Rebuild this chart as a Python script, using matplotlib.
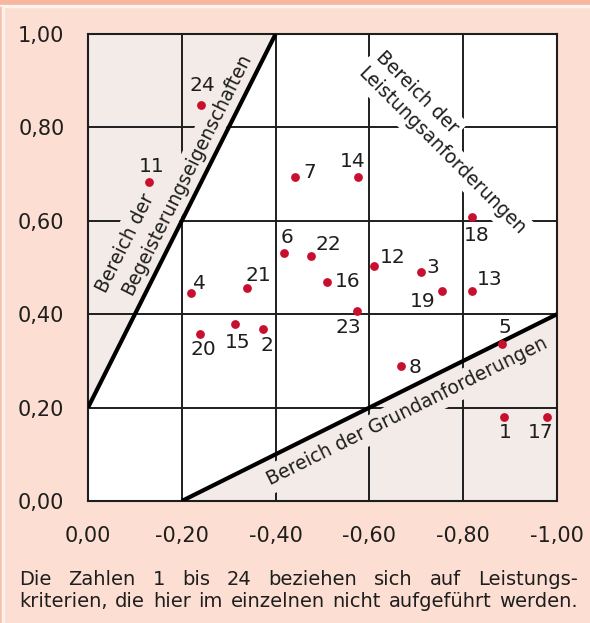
import matplotlib
matplotlib.use("Agg")
import matplotlib.pyplot as plt
from matplotlib.patches import Rectangle

plt.rcParams['font.family'] = ['DejaVu Sans']

# criteria (x axis runs from 0 to -1)
labels = ['24', '11', '7', '14', '18', '6', '22', '12', '3', '16', '21', '4',
          '19', '13', '23', '20', '15', '2', '5', '8', '1', '17']
x_vals = [-0.241, -0.130, -0.441, -0.576, -0.819, -0.418, -0.475, -0.610, -0.710, -0.510,
          -0.339, -0.220, -0.755, -0.819, -0.574, -0.239, -0.313, -0.373, -0.883, -0.667,
          -0.887, -0.979]
y_vals = [0.848, 0.683, 0.694, 0.694, 0.608, 0.531, 0.525, 0.503, 0.491, 0.469,
          0.456, 0.445, 0.450, 0.450, 0.407, 0.358, 0.379, 0.368, 0.336, 0.289,
          0.180, 0.180]

# region boundaries
begeister_x = [0.0, -0.4]
begeister_y = [0.2, 1.0]
grund_x = [-0.2, -1.0]
grund_y = [0.0, 0.4]

xticks = [0.0, -0.2, -0.4, -0.6, -0.8, -1.0]
yticks = [0.0, 0.2, 0.4, 0.6, 0.8, 1.0]

caption = ["Die Zahlen 1 bis 24 beziehen sich auf Leistungs-",
           "kriterien, die hier im einzelnen nicht aufgeführt werden."]

# label offsets in pixels (dx right, dy down)
label_offsets = {'24': (1, -19), '11': (3, -16), '7': (15, -4), '14': (-5, -15),
                 '18': (5, 18), '6': (3, -16), '22': (18, -11), '12': (19, -9),
                 '3': (12, -4), '16': (20, 0), '21': (11, -13), '4': (8, -10),
                 '19': (-19, 11), '13': (18, -11), '23': (-9, 17), '20': (3, 16),
                 '15': (3, 18), '2': (4, 16), '5': (3, -17), '8': (14, 1),
                 '1': (1, 16), '17': (-7, 16)}

W, H = 590, 623
bg = '#fcdfd2'
shade = '#f3ebe7'
ink = '#1e1e1e'
dot = '#c8102e'

fig = plt.figure(figsize=(W / 100, H / 100), dpi=100, facecolor=bg)
fig.patches.append(Rectangle((0, 1 - 5 / H), 1, 5 / H, transform=fig.transFigure,
                             color='#f6b6a0', zorder=0))
fig.patches.append(Rectangle((0, 1 - 7 / H), 1, 2 / H, transform=fig.transFigure,
                             color='#fff3ee', zorder=0))
fig.patches.append(Rectangle((0, 0), 2 / W, 1 - 7 / H, transform=fig.transFigure,
                             color='#f4c2b0', zorder=0))
fig.patches.append(Rectangle((2 / W, 0), 1.5 / W, 1 - 7 / H, transform=fig.transFigure,
                             color='#fff0ea', zorder=0))

ax = fig.add_axes([88 / W, 122 / H, 469 / W, 467 / H])
ax.set_facecolor('white')
ax.set_xlim(0, -1)
ax.set_ylim(0, 1)

# shaded regions
upper = ax.fill(begeister_x + [0.0], begeister_y + [1.0], color=shade, lw=0, zorder=0.2)[0]
lower = ax.fill(grund_x + [-1.0], grund_y + [0.0], color=shade, lw=0, zorder=0.2)[0]

ax.set_xticks(xticks)
ax.set_yticks(yticks)
ax.set_xticklabels([f"{v:.2f}".replace('.', ',') for v in xticks])
ax.set_yticklabels([f"{v:.2f}".replace('.', ',') for v in yticks])
ax.tick_params(length=0, labelsize=15, colors=ink)
ax.tick_params(axis='x', pad=18)
ax.tick_params(axis='y', pad=17)
ax.grid(True, color=ink, lw=1.4)
ax.set_axisbelow(True)
for s in ax.spines.values():
    s.set_color(ink)
    s.set_linewidth(1.5)

# boundary lines
ax.plot(begeister_x, begeister_y, color='black', lw=3, zorder=3, solid_capstyle='butt')
ax.plot(grund_x, grund_y, color='black', lw=3, zorder=3, solid_capstyle='butt')

# region labels
def region_text(x, y, s, rot, face, clip=None):
    t = ax.text(x, y, s, rotation=rot, rotation_mode='anchor', ha='center', va='center',
                fontsize=13.5, color=ink, zorder=2,
                bbox=dict(boxstyle='square,pad=0.25', fc=face, ec='none'))
    if clip is not None:
        t.set_clip_path(clip)
    return t

region_text(-0.079, 0.552, "Bereich der", 63.4, shade, upper)
region_text(-0.211, 0.700, "Begeisterungseigenschaften", 63.4, shade, upper)
region_text(-0.701, 0.876, "Bereich der", -45, 'white')
region_text(-0.755, 0.750, "Leistungsanforderungen", -45, 'white')
region_text(-0.680, 0.191, "Bereich der Grundanforderungen", 26.4, shade, lower)

# points
ax.scatter(x_vals, y_vals, s=40, color=dot, zorder=4, linewidths=0)
for lab, x, y in zip(labels, x_vals, y_vals):
    dx, dy = label_offsets[lab]
    ax.annotate(lab, (x, y), xytext=(dx * 0.72, -dy * 0.72), textcoords='offset points',
                ha='center', va='center', fontsize=14.5, color=ink, zorder=5)

# justified caption: size chosen so the second line fills the width with some slack
x0, x1 = 19, 578
r = fig.canvas.get_renderer()
probe = fig.text(0, 0, caption[1], fontsize=10)
cap_size = 0.98 * 10 * (x1 - x0) / probe.get_window_extent(r).width
probe.remove()
for line, base in zip(caption, [585, 607]):
    words = line.split()
    texts = [fig.text(0, 1 - base / H, w, fontsize=cap_size, color=ink, va='baseline')
             for w in words]
    widths = [t.get_window_extent(r).width for t in texts]
    gap = (x1 - x0 - sum(widths)) / (len(words) - 1)
    pos = x0
    for t, w in zip(texts, widths):
        t.set_x(pos / W)
        pos += w + gap

fig.savefig("out.png", dpi=100, facecolor=bg)
